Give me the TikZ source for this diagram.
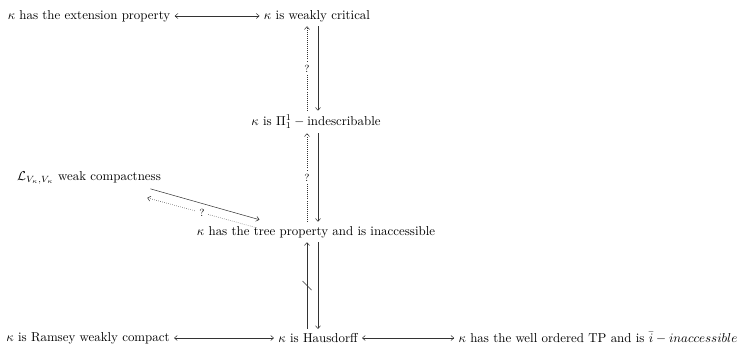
\documentclass[tikz,border=0pt]{standalone}
\usetikzlibrary{calc,arrows.meta}
\begin{document}
\begin{tikzpicture}[x=0.775pt,y=-0.775pt,
  >={To[length=2.6pt,width=4.2pt]},
  lbl/.style={inner sep=3.3pt},
  ln/.style={line width=0.4pt,draw=black!80},
  dots/.style={dash pattern=on 0.4pt off 1.2pt},
  qm/.style={fill=white,inner sep=2.5pt,font=\footnotesize}]
\useasboundingbox (0,0) rectangle (743,345);
\node[lbl] (A) at (89,16) {$\kappa$ has the extension property};
\node[lbl] (B) at (317,16) {$\kappa$ is weakly critical};
\node[lbl] (C) at (316,122) {$\kappa$ is $\Pi^1_1-{}$indescribable};
\node[lbl] (E) at (89,178) {$\mathcal{L}_{V_\kappa,V_\kappa}$ weak compactness};
\node[lbl] (D) at (316,232) {$\kappa$ has the tree property and is inaccessible};
\node[lbl] (F) at (88,338) {$\kappa$ is Ramsey weakly compact};
\node[lbl] (G) at (318,338) {$\kappa$ is Hausdorff};
\node[lbl] (H) at (598,338) {$\kappa$ has the well ordered TP and is $\bar{i}-inaccessible$};
\coordinate (l) at (307,0);
\coordinate (r) at (318,0);
% horizontal
\draw[ln,<->] (A) -- (B);
\draw[ln,<->] (F) -- (G);
\draw[ln,<->] (G) -- (H);
% B - C
\draw[ln,->] (B.south -| r) -- (C.north -| r);
\draw[ln,->,dots] (C.north -| l) -- node[qm]{?} (B.south -| l);
% C - D
\draw[ln,->] (C.south -| r) -- (D.north -| r);
\draw[ln,->,dots] (D.north -| l) -- node[qm]{?} (C.south -| l);
% D - G
\draw[ln,->] (D.south -| r) -- (G.north -| r);
\draw[ln,->] (G.north -| l) -- coordinate[pos=0.5] (s) (D.south -| l);
\draw[ln] ($(s)+(-4.5,-4.5)$) -- ($(s)+(4.5,4.5)$);
% E - D
\draw[ln,->] ($(E.south east)+(-15,0)$) -- ($(D.north west)+(67,-2)$);
\draw[ln,->,dots] ($(D.north west)+(64,6)$) -- node[qm,pos=0.5]{?} ($(E.south east)+(-18,9)$);
\end{tikzpicture}
\end{document}
